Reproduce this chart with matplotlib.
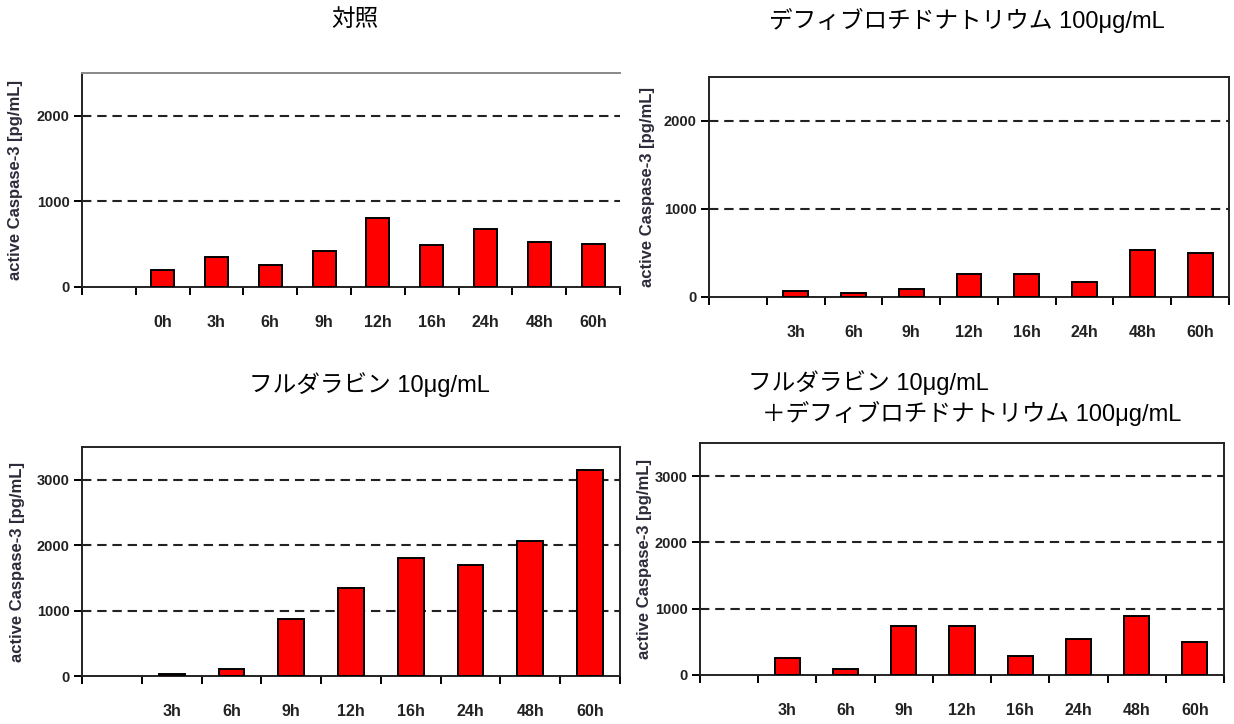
import numpy as np
import matplotlib
matplotlib.use("Agg")
import matplotlib.pyplot as plt

W, H = 1234, 724

# data
labels_ctrl = ["", "0h", "3h", "6h", "9h", "12h", "16h", "24h", "48h", "60h"]
values_ctrl = [None, 200, 350, 262, 420, 808, 485, 676, 527, 508]

labels_time = ["", "3h", "6h", "9h", "12h", "16h", "24h", "48h", "60h"]
values_defi = [None, 68, 45, 91, 260, 260, 174, 536, 498]
values_flu = [None, 31, 113, 872, 1338, 1805, 1692, 2067, 3149]
values_combo = [None, 260, 90, 745, 745, 285, 545, 890, 495]

titles = ["対照",
          "デフィブロチドナトリウム 100μg/mL",
          "フルダラビン 10μg/mL",
          "フルダラビン 10μg/mL\n＋デフィブロチドナトリウム 100μg/mL"]
ylabel = "active Caspase-3 [pg/mL]"

TXT_FONT = ["Liberation Sans", "Noto Sans CJK JP"]
NUM_FONT = "Liberation Sans"


def px_box(l, r, t, b):
    return [l / W, 1 - b / H, (r - l) / W, (b - t) / H]


def draw_panel(ax, labels, values, ymax, yticks, full_box=True):
    n = len(labels)
    x = np.arange(n)
    heights = [0 if v is None else v for v in values]
    mask = [v is not None for v in values]
    ax.bar(x[mask], np.array(heights)[mask], width=0.43, color="#ff0000",
           edgecolor="black", linewidth=1.4, zorder=3)
    ax.set_xlim(-0.5, n - 0.5)
    ax.set_ylim(0, ymax)
    for y in yticks[1:]:
        ax.axhline(y, color="#222222", linestyle=(0, (4.5, 2.8)), linewidth=1.5, zorder=1)
    ax.set_yticks(yticks)
    ax.set_yticklabels([str(t) for t in yticks], fontfamily=NUM_FONT,
                       fontweight="bold", fontsize=10.5, color="#222222")
    ax.set_xticks(np.arange(n + 1) - 0.5)
    ax.set_xticklabels([])
    ax.set_xticks(x, minor=True)
    ax.set_xticklabels(labels, minor=True, fontfamily=NUM_FONT,
                       fontweight="bold", fontsize=11.5, color="#222222")
    ax.tick_params(axis="x", which="major", direction="out", length=6, width=1.4)
    ax.tick_params(axis="x", which="minor", length=0, pad=20)
    ax.tick_params(axis="y", direction="out", length=6, width=1.4, pad=3)
    for s in ax.spines.values():
        s.set_linewidth(1.4)
        s.set_color("#222222")
    if not full_box:
        ax.spines["right"].set_visible(False)
        ax.spines["top"].set_color("#888888")


fig = plt.figure(figsize=(W / 100, H / 100), dpi=100)

ax1 = fig.add_axes(px_box(82, 620, 73, 287))
draw_panel(ax1, labels_ctrl, values_ctrl, 2500, [0, 1000, 2000], full_box=False)

ax2 = fig.add_axes(px_box(709, 1229, 77, 297))
draw_panel(ax2, labels_time, values_defi, 2500, [0, 1000, 2000])

ax3 = fig.add_axes(px_box(82, 620, 447, 676))
draw_panel(ax3, labels_time, values_flu, 3500, [0, 1000, 2000, 3000])

ax4 = fig.add_axes(px_box(700, 1224, 443, 675))
draw_panel(ax4, labels_time, values_combo, 3500, [0, 1000, 2000, 3000])

# y labels
for xpx, (t, b) in [(16, (73, 287)), (647, (77, 297)), (18, (447, 676)), (645, (443, 675))]:
    fig.text(xpx / W, 1 - (t + b) / 2 / H, ylabel, rotation=90, ha="center", va="center",
             fontfamily=NUM_FONT, fontweight="bold", fontsize=12, color="#2b2b3a")

# titles
fig.text(355 / W, 1 - 20 / H, titles[0], ha="center", va="center", fontsize=17, family=TXT_FONT)
fig.text(967 / W, 1 - 20 / H, titles[1], ha="center", va="center", fontsize=17, family=TXT_FONT)
fig.text(369 / W, 1 - 385 / H, titles[2], ha="center", va="center", fontsize=17, family=TXT_FONT)
line1, line2 = titles[3].split("\n")
fig.text(748 / W, 1 - 383 / H, line1, ha="left", va="center", fontsize=17, family=TXT_FONT)
fig.text(762 / W, 1 - 413 / H, line2, ha="left", va="center", fontsize=17, family=TXT_FONT)

fig.savefig("out.png", dpi=100)
